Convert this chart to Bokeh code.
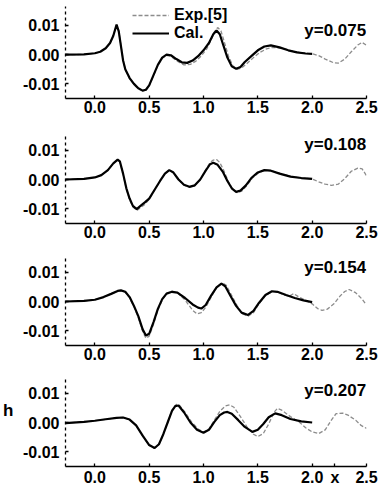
from bokeh.plotting import figure
from bokeh.models import (Range1d, FixedTicker, PrintfTickFormatter, Label, Legend, LegendItem,
                          LinearAxis)
from bokeh.layouts import column
from bokeh.embed import file_html
from bokeh.resources import INLINE

FONT = "Liberation Sans"

X_TICKS = [0.0, 0.5, 1.0, 1.5, 2.0, 2.5]
Y_TICKS = [-0.01, 0.0, 0.01]
PANEL_LABELS = ["y=0.075", "y=0.108", "y=0.154", "y=0.207"]
LEGEND_LABELS = ["Exp.[5]", "Cal."]
X_NAME, X_NAME_POS = "x", 2.21
H_NAME, H_NAME_POS = "h", 0.004

# ---------------- panel 1 (y=0.075) ----------------
cal_x_1 = [-0.27, -0.10, 0.00, 0.05, 0.10, 0.14, 0.17, 0.20, 0.22, 0.24, 0.26, 0.28, 0.32, 0.36, 0.40,
           0.44, 0.47, 0.50, 0.54, 0.58, 0.62, 0.66, 0.70, 0.75, 0.80, 0.85, 0.90, 0.95, 1.00, 1.05,
           1.09, 1.12, 1.15, 1.18, 1.22, 1.26, 1.30, 1.34, 1.38, 1.44, 1.50, 1.56, 1.62, 1.70, 1.78,
           1.86, 1.94, 2.00]
cal_h_1 = [0.0, 0.0001, 0.0005, 0.0010, 0.0022, 0.0040, 0.0065, 0.0103, 0.0080, 0.0030, -0.0020,
           -0.0050, -0.0080, -0.0100, -0.0115, -0.0123, -0.0120, -0.0105, -0.0070, -0.0035, -0.0010,
           0.0000, -0.0002, -0.0015, -0.0026, -0.0028, -0.0020, -0.0005, 0.0015, 0.0040, 0.0070,
           0.0083, 0.0070, 0.0035, -0.0010, -0.0040, -0.0048, -0.0042, -0.0025, -0.0005, 0.0015,
           0.0028, 0.0032, 0.0025, 0.0015, 0.0008, 0.0004, 0.0003]
exp_x_1 = [-0.27, -0.10, 0.00, 0.05, 0.10, 0.14, 0.17, 0.20, 0.22, 0.24, 0.26, 0.28, 0.32, 0.36, 0.40,
           0.44, 0.47, 0.50, 0.54, 0.58, 0.62, 0.66, 0.70, 0.75, 0.82, 0.88, 0.93, 0.98, 1.03, 1.07,
           1.10, 1.13, 1.16, 1.19, 1.23, 1.27, 1.31, 1.35, 1.40, 1.46, 1.52, 1.58, 1.64, 1.72, 1.80,
           1.88, 1.95, 2.00, 2.06, 2.12, 2.20, 2.24, 2.30, 2.36, 2.42, 2.46, 2.50]
exp_h_1 = [0.0, 0.0001, 0.0005, 0.0010, 0.0022, 0.0040, 0.0066, 0.0102, 0.0082, 0.0032, -0.0018,
           -0.0050, -0.0082, -0.0102, -0.0117, -0.0124, -0.0121, -0.0106, -0.0072, -0.0036, -0.0012,
           -0.0002, -0.0006, -0.0020, -0.0035, -0.0033, -0.0022, -0.0004, 0.0020, 0.0050, 0.0078,
           0.0093, 0.0082, 0.0045, -0.0005, -0.0038, -0.0050, -0.0046, -0.0030, -0.0010, 0.0008,
           0.0020, 0.0025, 0.0022, 0.0014, 0.0008, 0.0005, 0.0003, -0.0003, -0.0015, -0.0028,
           -0.0029, -0.0015, 0.0010, 0.0033, 0.0042, 0.0032]

# ---------------- panel 2 (y=0.108) ----------------
cal_x_2 = [-0.27, -0.10, 0.00, 0.06, 0.12, 0.17, 0.21, 0.23, 0.26, 0.29, 0.32, 0.35, 0.385, 0.42, 0.46,
           0.50, 0.55, 0.60, 0.645, 0.685, 0.72, 0.77, 0.82, 0.87, 0.92, 0.97, 1.02, 1.06, 1.09, 1.13,
           1.18, 1.22, 1.26, 1.30, 1.34, 1.39, 1.44, 1.50, 1.56, 1.62, 1.70, 1.80, 1.90, 2.00]
cal_h_2 = [0.0, 0.0002, 0.0007, 0.0015, 0.0032, 0.0055, 0.0068, 0.0062, 0.0020, -0.0030, -0.0065,
           -0.0090, -0.0101, -0.0090, -0.0078, -0.0065, -0.0035, -0.0005, 0.0020, 0.0032, 0.0025,
           0.0000, -0.0018, -0.0025, -0.0020, 0.0000, 0.0030, 0.0052, 0.0057, 0.0050, 0.0025,
           -0.0005, -0.0030, -0.0042, -0.0038, -0.0020, 0.0005, 0.0024, 0.0032, 0.0030, 0.0020,
           0.0010, 0.0005, 0.0002]
exp_x_2 = [-0.27, -0.10, 0.00, 0.06, 0.12, 0.17, 0.21, 0.23, 0.26, 0.29, 0.32, 0.35, 0.39, 0.42, 0.46,
           0.50, 0.55, 0.60, 0.645, 0.685, 0.72, 0.77, 0.82, 0.87, 0.92, 0.97, 1.02, 1.06, 1.09, 1.12,
           1.15, 1.19, 1.23, 1.27, 1.31, 1.35, 1.40, 1.45, 1.51, 1.57, 1.63, 1.71, 1.81, 1.91, 2.00,
           2.06, 2.12, 2.18, 2.24, 2.30, 2.36, 2.42, 2.46, 2.50]
exp_h_2 = [0.0, 0.0002, 0.0007, 0.0015, 0.0032, 0.0055, 0.0067, 0.0060, 0.0018, -0.0032, -0.0068,
           -0.0094, -0.0105, -0.0096, -0.0085, -0.0068, -0.0036, -0.0005, 0.0020, 0.0032, 0.0024,
           0.0000, -0.0019, -0.0026, -0.0021, 0.0000, 0.0032, 0.0058, 0.0066, 0.0068, 0.0058,
           0.0028, -0.0008, -0.0034, -0.0045, -0.0040, -0.0020, 0.0005, 0.0024, 0.0032, 0.0030,
           0.0020, 0.0010, 0.0005, 0.0002, -0.0008, -0.0016, -0.0020, -0.0016, 0.0003, 0.0028,
           0.0039, 0.0036, 0.0013]

# ---------------- panel 3 (y=0.154) ----------------
cal_x_3 = [-0.27, -0.10, 0.00, 0.08, 0.15, 0.21, 0.24, 0.28, 0.32, 0.36, 0.40, 0.44, 0.47, 0.50, 0.54,
           0.58, 0.62, 0.66, 0.71, 0.76, 0.83, 0.90, 0.95, 0.98, 1.02, 1.07, 1.12, 1.165, 1.20, 1.25,
           1.30, 1.35, 1.41, 1.46, 1.51, 1.57, 1.63, 1.68, 1.76, 1.84, 1.92, 2.00]
cal_h_3 = [0.0, 0.0002, 0.0006, 0.0015, 0.0026, 0.0036, 0.0038, 0.0033, 0.0015, -0.0015, -0.0050,
           -0.0095, -0.0116, -0.0110, -0.0070, -0.0025, 0.0008, 0.0027, 0.0033, 0.0030, 0.0012,
           -0.0010, -0.0021, -0.0024, -0.0012, 0.0020, 0.0048, 0.0061, 0.0052, 0.0018, -0.0015,
           -0.0038, -0.0046, -0.0032, -0.0005, 0.0022, 0.0035, 0.0033, 0.0022, 0.0012, 0.0004, -0.0002]
exp_x_3 = [-0.27, -0.10, 0.00, 0.08, 0.15, 0.21, 0.24, 0.28, 0.32, 0.36, 0.40, 0.44, 0.47, 0.50, 0.54,
           0.58, 0.62, 0.66, 0.71, 0.76, 0.83, 0.90, 0.94, 0.98, 1.02, 1.07, 1.12, 1.17, 1.21, 1.26,
           1.31, 1.36, 1.41, 1.46, 1.51, 1.57, 1.63, 1.68, 1.74, 1.79, 1.83, 1.88, 1.94, 2.00, 2.05,
           2.09, 2.14, 2.20, 2.26, 2.30, 2.34, 2.40, 2.46, 2.49]
exp_h_3 = [0.0, 0.0002, 0.0006, 0.0015, 0.0026, 0.0035, 0.0037, 0.0032, 0.0013, -0.0018, -0.0055,
           -0.0102, -0.0125, -0.0118, -0.0078, -0.0030, 0.0005, 0.0027, 0.0035, 0.0030, 0.0005,
           -0.0030, -0.0042, -0.0038, -0.0020, 0.0015, 0.0048, 0.0064, 0.0055, 0.0020, -0.0015,
           -0.0042, -0.0050, -0.0038, -0.0008, 0.0020, 0.0034, 0.0033, 0.0022, 0.0018, 0.0027,
           0.0015, 0.0004, -0.0008, -0.0024, -0.0030, -0.0026, -0.0008, 0.0020, 0.0034, 0.0041,
           0.0030, 0.0008, -0.0007]

# ---------------- panel 4 (y=0.207) ----------------
cal_x_4 = [-0.27, -0.10, 0.00, 0.10, 0.20, 0.26, 0.32, 0.38, 0.44, 0.50, 0.55, 0.59, 0.63, 0.67, 0.71,
           0.74, 0.77, 0.82, 0.88, 0.94, 1.00, 1.05, 1.10, 1.15, 1.19, 1.22, 1.26, 1.32, 1.38, 1.45,
           1.50, 1.55, 1.60, 1.66, 1.72, 1.80, 1.90, 2.00]
cal_h_4 = [-0.0002, 0.0002, 0.0006, 0.0011, 0.0016, 0.0017, 0.0010, -0.0010, -0.0045, -0.0077,
           -0.0087, -0.0074, -0.0040, 0.0000, 0.0040, 0.0056, 0.0058, 0.0035, 0.0000, -0.0025,
           -0.0035, -0.0025, 0.0002, 0.0025, 0.0034, 0.0036, 0.0030, 0.0008, -0.0015, -0.0032,
           -0.0025, -0.0005, 0.0018, 0.0031, 0.0025, 0.0012, 0.0004, 0.0000]
exp_x_4 = [-0.27, -0.10, 0.00, 0.10, 0.20, 0.26, 0.32, 0.38, 0.44, 0.50, 0.55, 0.59, 0.63, 0.67, 0.71,
           0.75, 0.78, 0.83, 0.89, 0.95, 1.00, 1.05, 1.10, 1.15, 1.20, 1.24, 1.28, 1.34, 1.40, 1.46,
           1.50, 1.55, 1.60, 1.65, 1.68, 1.72, 1.80, 1.88, 1.94, 2.00, 2.06, 2.12, 2.18, 2.22, 2.28,
           2.33, 2.40, 2.45, 2.50]
exp_h_4 = [-0.0002, 0.0002, 0.0006, 0.0011, 0.0016, 0.0017, 0.0010, -0.0010, -0.0046, -0.0078,
           -0.0088, -0.0075, -0.0041, 0.0000, 0.0042, 0.0062, 0.0058, 0.0035, 0.0002, -0.0022,
           -0.0033, -0.0022, 0.0008, 0.0038, 0.0056, 0.0060, 0.0052, 0.0020, -0.0015, -0.0040,
           -0.0048, -0.0038, -0.0005, 0.0035, 0.0048, 0.0042, 0.0020, 0.0002, -0.0018, -0.0032,
           -0.0038, -0.0025, 0.0010, 0.0030, 0.0032, 0.0025, 0.0008, -0.0010, -0.0020]

PANELS = [
    (cal_x_1, cal_h_1, exp_x_1, exp_h_1, 0.0083),
    (cal_x_2, cal_h_2, exp_x_2, exp_h_2, 0.0119),
    (cal_x_3, cal_h_3, exp_x_3, exp_h_3, 0.0117),
    (cal_x_4, cal_h_4, exp_x_4, exp_h_4, 0.0110),
]
# (figure height, min_border_top, min_border_bottom, y top)
SIZES = [(128, 6, 30, 0.0165), (123, 7, 28, 0.015), (123, 6, 29, 0.015), (115, 4, 23, 0.015)]


def style_text_axis(ax):
    ax.major_label_text_font = FONT
    ax.major_label_text_font_size = "16px"
    ax.major_label_text_font_style = "bold"
    ax.major_label_text_color = "black"
    ax.minor_tick_line_color = None


figs = []
for i, ((cx, ch, ex, eh, ly), (H, bt, bb, ytop)) in enumerate(zip(PANELS, SIZES)):
    p = figure(width=379, height=H, x_range=Range1d(-0.27, 2.5), y_range=Range1d(-0.015, ytop),
               output_backend="svg", toolbar_location=None,
               min_border_left=59, min_border_right=13, min_border_top=bt, min_border_bottom=bb,
               background_fill_color="white", border_fill_color="white")
    p.outline_line_color = None
    p.xgrid.visible = False
    p.ygrid.visible = False

    r_exp = p.line(ex, eh, line_color="#8c8c8c", line_width=1.3, line_dash="4 2")
    r_cal = p.line(cx, ch, line_color="black", line_width=2.2)

    for ax in (p.xaxis[0], p.yaxis[0]):
        style_text_axis(ax)
        ax.major_tick_in = 3
        ax.major_tick_out = 0
        ax.major_tick_line_width = 1.3
        ax.axis_line_color = "black"
    xt = list(X_TICKS)
    if i == 3:
        xt = sorted(xt + [X_NAME_POS])
        p.xaxis.major_label_overrides = {X_NAME_POS: X_NAME}
    p.xaxis.ticker = FixedTicker(ticks=xt)
    p.xaxis.formatter = PrintfTickFormatter(format="%.1f")
    p.xaxis.major_label_standoff = 2
    p.xaxis.axis_line_width = 1.5
    p.yaxis.ticker = FixedTicker(ticks=Y_TICKS)
    p.yaxis.formatter = PrintfTickFormatter(format="%.2f")
    p.yaxis.major_label_standoff = 6
    p.yaxis.axis_line_width = 1.3
    p.yaxis.axis_line_dash = "3 3"

    p.add_layout(Label(x=2.497, y=ly, text=PANEL_LABELS[i], text_align="right", text_baseline="middle",
                       text_font=FONT, text_font_size="17px", text_font_style="bold", text_color="black"))

    if i == 0:
        legend = Legend(items=[LegendItem(label=LEGEND_LABELS[0], renderers=[r_exp]),
                               LegendItem(label=LEGEND_LABELS[1], renderers=[r_cal])],
                        location=(67, 56), orientation="vertical")
        legend.background_fill_alpha = 0
        legend.border_line_alpha = 0
        legend.padding = 0
        legend.margin = 0
        legend.spacing = -4
        legend.glyph_width = 37
        legend.glyph_height = 16
        legend.label_height = 16
        legend.label_standoff = 5
        legend.label_text_font = FONT
        legend.label_text_font_size = "16px"
        legend.label_text_font_style = "bold"
        legend.label_text_color = "black"
        p.add_layout(legend)

    if i == 3:
        hax = LinearAxis(ticker=FixedTicker(ticks=[H_NAME_POS]),
                         major_label_overrides={H_NAME_POS: H_NAME})
        style_text_axis(hax)
        hax.major_label_text_font_size = "17px"
        hax.axis_line_color = None
        hax.major_tick_line_color = None
        hax.major_label_standoff = 1
        p.add_layout(hax, "left")
    figs.append(p)

layout = column(*figs, spacing=0)
open("out.html", "w").write(file_html(layout, INLINE))
